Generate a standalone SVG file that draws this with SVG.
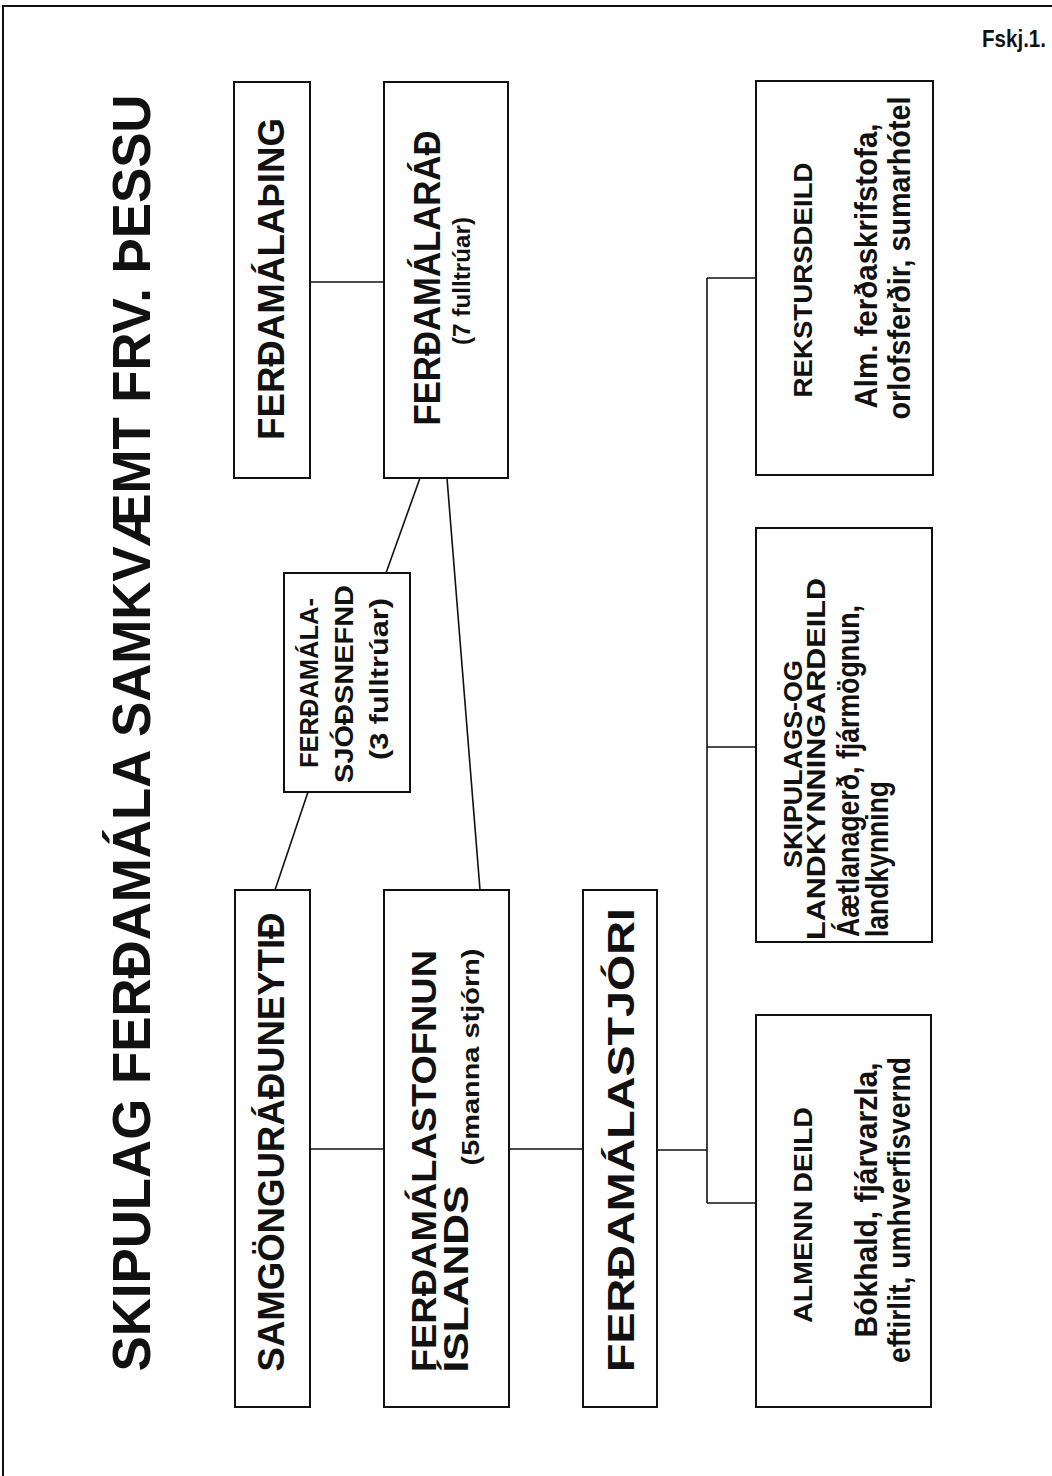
<svg xmlns="http://www.w3.org/2000/svg" width="1052" height="1476" viewBox="0 0 1052 1476">
<style>
.box{fill:#fff;stroke:#111;stroke-width:2}
.ln{stroke:#111;stroke-width:1.6;fill:none}
text{font-family:"Liberation Sans",Arial,sans-serif;font-weight:bold;fill:#111}
.h{font-size:37px}
.h2{font-size:35px}
.s{font-size:25px}
.d{font-size:31px}
.p{font-size:24px}
</style>
<rect x="0" y="0" width="1052" height="1476" fill="#fff"/>
<g id="frame" class="ln"><path d="M3,1476 V6 H1052" stroke-width="2"/></g>
<text id="title" transform="translate(150,733) rotate(-90)" text-anchor="middle" font-size="54" textLength="1277" lengthAdjust="spacingAndGlyphs">SKIPULAG FERÐAMÁLA SAMKVÆMT FRV. ÞESSU</text>
<text id="fskj" x="982" y="47" font-size="23" textLength="64" lengthAdjust="spacingAndGlyphs">Fskj.1.</text>
<g id="connectors" class="ln">
<line x1="310" y1="282" x2="384" y2="282"/>
<line x1="420" y1="478" x2="386" y2="573"/>
<line x1="308" y1="792" x2="275" y2="890"/>
<line x1="447" y1="478" x2="480" y2="890"/>
<line x1="310" y1="1149" x2="384" y2="1149"/>
<line x1="509" y1="1149" x2="583" y2="1149"/>
<line x1="657" y1="1150" x2="707" y2="1150"/>
<line x1="707" y1="278" x2="707" y2="1203"/>
<line x1="707" y1="278" x2="756" y2="278"/>
<line x1="707" y1="747" x2="756" y2="747"/>
<line x1="707" y1="1203" x2="756" y2="1203"/>
</g>
<g id="ferdamalathing">
<rect class="box" x="234" y="82" width="76" height="396"/>
<text class="h" transform="translate(284,279) rotate(-90)" text-anchor="middle" textLength="322" lengthAdjust="spacingAndGlyphs">FERÐAMÁLAÞING</text>
</g>
<g id="ferdamalarad">
<rect class="box" x="384" y="82" width="124" height="396"/>
<text class="h" transform="translate(440,278) rotate(-90)" text-anchor="middle" textLength="295" lengthAdjust="spacingAndGlyphs">FERÐAMÁLARÁÐ</text>
<text class="p" transform="translate(470,281) rotate(-90)" text-anchor="middle" textLength="128" lengthAdjust="spacingAndGlyphs">(7 fulltrúar)</text>
</g>
<g id="sjodsnefnd">
<rect class="box" x="284" y="573" width="126" height="219"/>
<text class="s" transform="translate(318,683) rotate(-90)" text-anchor="middle" textLength="170" lengthAdjust="spacingAndGlyphs">FERÐAMÁLA-</text>
<text class="s" transform="translate(353,684) rotate(-90)" text-anchor="middle" textLength="198" lengthAdjust="spacingAndGlyphs">SJÓÐSNEFND</text>
<text class="s" transform="translate(388,679) rotate(-90)" text-anchor="middle" textLength="162" lengthAdjust="spacingAndGlyphs">(3 fulltrúar)</text>
</g>
<g id="samgongu">
<rect class="box" x="235" y="890" width="75" height="517"/>
<text class="h" transform="translate(284,1142) rotate(-90)" text-anchor="middle" textLength="459" lengthAdjust="spacingAndGlyphs">SAMGÖNGURÁÐUNEYTIÐ</text>
</g>
<g id="ferdamalastofnun">
<rect class="box" x="384" y="890" width="125" height="517"/>
<text class="h2" transform="translate(436,1161) rotate(-90)" text-anchor="middle" textLength="422" lengthAdjust="spacingAndGlyphs">FERÐAMÁLASTOFNUN</text>
<text class="h2" transform="translate(468,1279) rotate(-90)" text-anchor="middle" textLength="187" lengthAdjust="spacingAndGlyphs">ÍSLANDS</text>
<text class="p" transform="translate(479,1057) rotate(-90)" text-anchor="middle" textLength="217" lengthAdjust="spacingAndGlyphs">(5manna stjórn)</text>
</g>
<g id="ferdamalastjori">
<rect class="box" x="583" y="890" width="74" height="517"/>
<text class="h" transform="translate(634,1140) rotate(-90)" text-anchor="middle" textLength="464" lengthAdjust="spacingAndGlyphs">FERÐAMÁLASTJÓRI</text>
</g>
<g id="rekstursdeild">
<rect class="box" x="756" y="81" width="177" height="394"/>
<text class="s" transform="translate(812,280) rotate(-90)" text-anchor="middle" textLength="235" lengthAdjust="spacingAndGlyphs">REKSTURSDEILD</text>
<text class="d" transform="translate(877,266) rotate(-90)" text-anchor="middle" textLength="285" lengthAdjust="spacingAndGlyphs">Alm. ferðaskrifstofa,</text>
<text class="d" transform="translate(910,258) rotate(-90)" text-anchor="middle" textLength="323" lengthAdjust="spacingAndGlyphs">orlofsferðir, sumarhótel</text>
</g>
<g id="skipulagsdeild">
<rect class="box" x="756" y="528" width="176" height="414"/>
<text class="s" transform="translate(802,764) rotate(-90)" text-anchor="middle" textLength="208" lengthAdjust="spacingAndGlyphs">SKIPULAGS-OG</text>
<text class="s" transform="translate(825,759) rotate(-90)" text-anchor="middle" textLength="362" lengthAdjust="spacingAndGlyphs">LANDKYNNINGARDEILD</text>
<text class="d" transform="translate(859,937) rotate(-90)" textLength="332" lengthAdjust="spacingAndGlyphs">Áætlanagerð, fjármögnun,</text>
<text class="d" transform="translate(888,937) rotate(-90)" textLength="156" lengthAdjust="spacingAndGlyphs">landkynning</text>
</g>
<g id="almenndeild">
<rect class="box" x="756" y="1015" width="175" height="392"/>
<text class="s" transform="translate(812,1215) rotate(-90)" text-anchor="middle" textLength="216" lengthAdjust="spacingAndGlyphs">ALMENN DEILD</text>
<text class="d" transform="translate(877,1200) rotate(-90)" text-anchor="middle" textLength="275" lengthAdjust="spacingAndGlyphs">Bókhald,  fjárvarzla,</text>
<text class="d" transform="translate(910,1210) rotate(-90)" text-anchor="middle" textLength="306" lengthAdjust="spacingAndGlyphs">eftirlit, umhverfisvernd</text>
</g>
</svg>
